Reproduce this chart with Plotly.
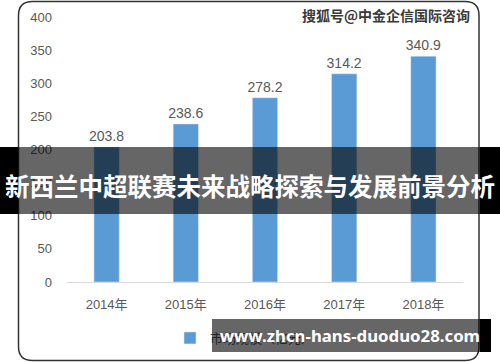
import plotly.graph_objects as go

years = ["2014年", "2015年", "2016年", "2017年", "2018年"]
market_size = [203.8, 238.6, 278.2, 314.2, 340.9]
y_ticks = [0, 50, 100, 150, 200, 250, 300, 350, 400]
series_name = "市场规模（亿元）"
title_text = "新西兰中超联赛未来战略探索与发展前景分析"
watermark_text = "搜狐号@中金企信国际咨询"
url_text = "www.zhcn-hans-duoduo28.com"

W, H = 500, 362
def px(x):
    return x / W
def py(y):
    return 1 - y / H

BASE_FONT = "Liberation Sans, Noto Sans CJK SC, sans-serif"
CJK_FONT = "Noto Sans CJK SC, sans-serif"

fig = go.Figure()
fig.add_trace(go.Bar(
    x=years, y=market_size, name=series_name,
    marker=dict(color="#5b9bd5"),
    text=[f"{v:.1f}" for v in market_size],
    textposition="outside",
    constraintext="none",
    textfont=dict(color="#595959", size=14, family=BASE_FONT),
    cliponaxis=False,
    width=0.32,
))

# rounded chart frame
x0, x1, y0, y1 = 18.5, 479, 1.5, 360.5
r = 14
rx, ry = r / W, r / H
X0, X1, Y0, Y1 = px(x0), px(x1), py(y0), py(y1)
path = (f"M {X0+rx},{Y0} L {X1-rx},{Y0} Q {X1},{Y0} {X1},{Y0-ry} "
        f"L {X1},{Y1+ry} Q {X1},{Y1} {X1-rx},{Y1} "
        f"L {X0+rx},{Y1} Q {X0},{Y1} {X0},{Y1+ry} "
        f"L {X0},{Y0-ry} Q {X0},{Y0} {X0+rx},{Y0} Z")
shapes = [dict(type="path", path=path, xref="paper", yref="paper",
               line=dict(color="#333333", width=1.5), layer="below")]

# title band overlay
bt, bb = 147, 214
shapes += [
    dict(type="rect", xref="paper", yref="paper", x0=0, x1=px(18), y0=py(bb), y1=py(bt),
         fillcolor="black", line=dict(width=0), layer="above"),
    dict(type="rect", xref="paper", yref="paper", x0=px(18), x1=px(480), y0=py(bb), y1=py(bt),
         fillcolor="rgba(0,0,0,0.6)", line=dict(width=0), layer="above"),
    dict(type="rect", xref="paper", yref="paper", x0=px(480), x1=1, y0=py(bb), y1=py(bt),
         fillcolor="black", line=dict(width=0), layer="above"),
]
# url band right black part
ut, ub = 319, 352
shapes += [
    dict(type="rect", xref="paper", yref="paper", x0=px(480), x1=px(491), y0=py(ub), y1=py(ut),
         fillcolor="black", line=dict(width=0), layer="above"),
]

annotations = [
    dict(text=f"<b>{watermark_text}</b>", x=px(386), y=py(15), xref="paper", yref="paper",
         xanchor="center", yanchor="middle",
         showarrow=False, font=dict(family=CJK_FONT, size=14, color="#3a3a3a")),
    dict(text=f"<b>{title_text}</b>", x=0.5, y=py(185), xref="paper", yref="paper",
         xanchor="center", yanchor="middle",
         showarrow=False, font=dict(family=CJK_FONT, size=24.5, color="white")),
    dict(text=f"<b>{url_text}</b>", x=px(212), y=py((ut + ub) / 2), xref="paper", yref="paper",
         xanchor="left", yanchor="middle", showarrow=False,
         width=268, height=ub - ut, align="right", bgcolor="rgba(0,0,0,0.6)",
         borderpad=0, borderwidth=0,
         font=dict(family="Noto Sans, sans-serif", size=16.8, color="white")),
]

fig.update_layout(
    width=W, height=H,
    margin=dict(l=0, r=0, t=0, b=0, autoexpand=False),
    paper_bgcolor="white", plot_bgcolor="white",
    showlegend=True,
    legend=dict(orientation="h", x=px(170), xanchor="left", y=py(338), yanchor="middle",
                itemwidth=30,
                font=dict(family=BASE_FONT, size=13, color="#595959"),
                bgcolor="rgba(0,0,0,0)"),
    xaxis=dict(domain=[px(67), px(463)], showline=True, linecolor="#d9d9d9", linewidth=1,
               ticks="", showgrid=False, ticklabelstandoff=10,
               tickfont=dict(family=BASE_FONT, size=13, color="#595959")),
    yaxis=dict(domain=[py(282), py(17)], range=[0, 400], tickvals=y_ticks,
               showgrid=False, zeroline=False, showline=False, ticks="",
               ticklabelstandoff=14,
               tickfont=dict(family=BASE_FONT, size=13, color="#595959")),
    shapes=shapes, annotations=annotations,
    bargap=0.68,
)

fig.write_html("out.html")
